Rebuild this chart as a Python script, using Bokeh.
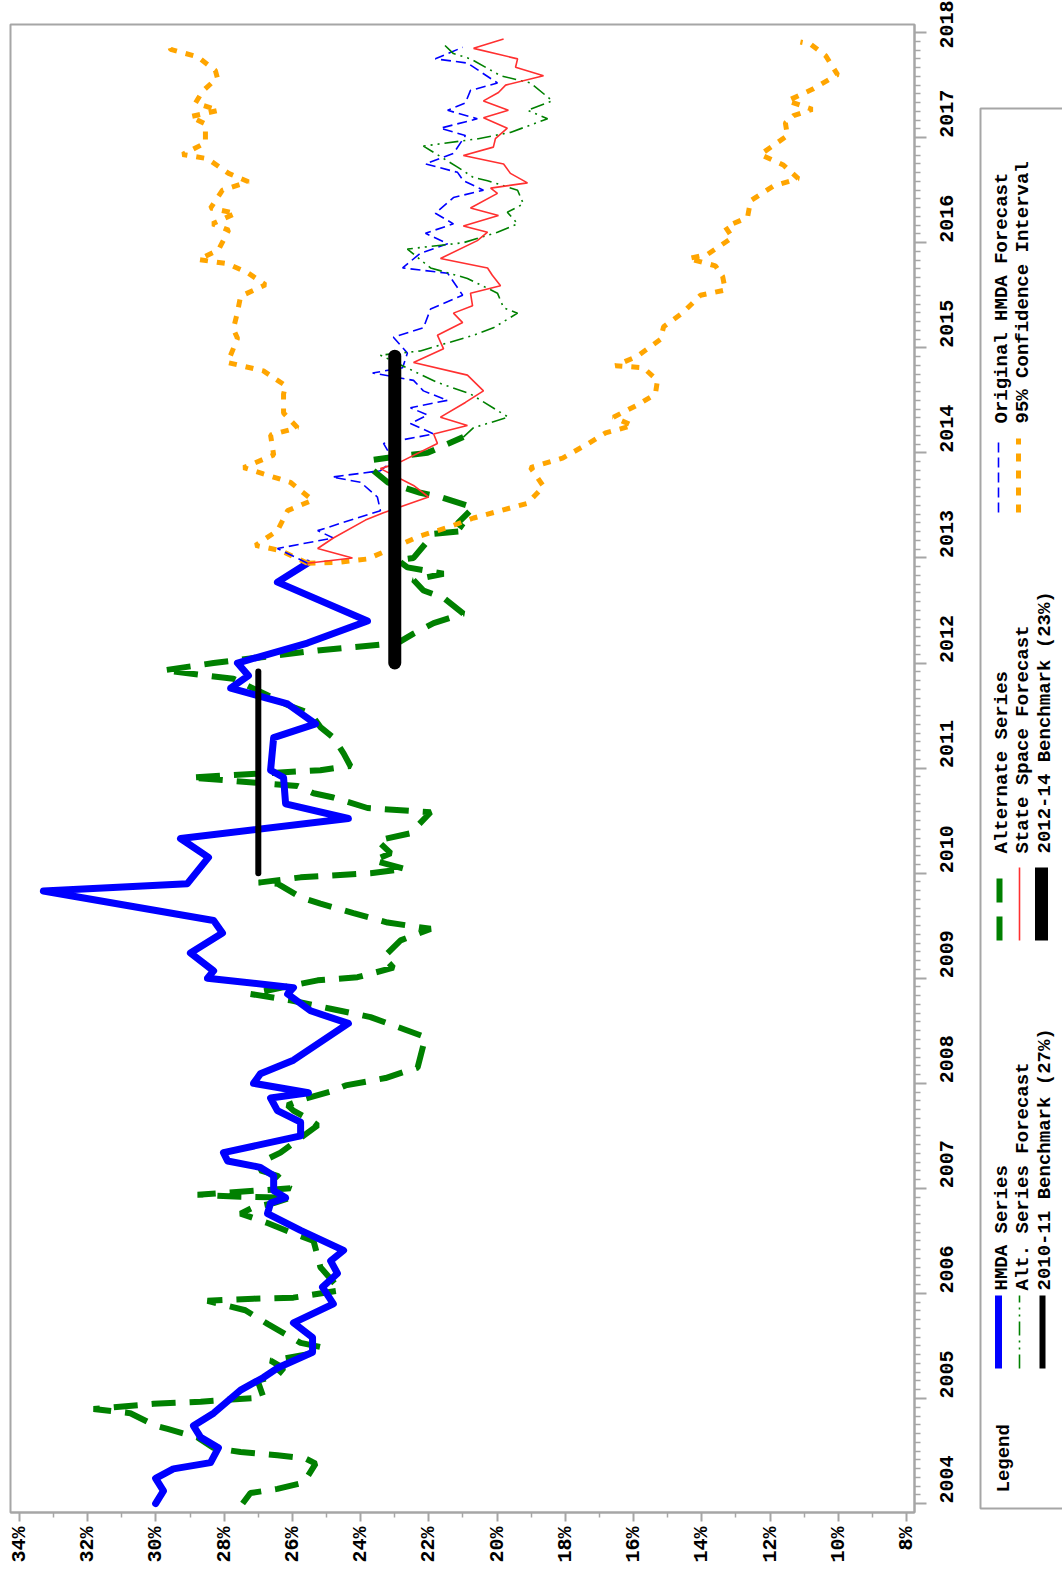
import math

from bokeh.core.properties import value
from bokeh.embed import file_html
from bokeh.layouts import row
from bokeh.models import FixedTicker, Range1d
from bokeh.plotting import figure
from bokeh.resources import INLINE

# ---------------------------------------------------------------- data
# HMDA series (share, %), by decimal year
hmda_year = [2004.00, 2004.12, 2004.24, 2004.33, 2004.39, 2004.53, 2004.63, 2004.74, 2004.86, 2005.08,
             2005.20, 2005.29, 2005.44, 2005.58, 2005.72, 2005.90, 2006.06, 2006.19, 2006.31, 2006.41,
             2006.60, 2006.76, 2006.86, 2006.91, 2006.98, 2007.12, 2007.20, 2007.26, 2007.34, 2007.50,
             2007.63, 2007.74, 2007.86, 2007.91, 2008.00, 2008.09, 2008.22, 2008.57, 2008.69, 2008.85,
             2008.91, 2009.00, 2009.07, 2009.24, 2009.43, 2009.55, 2009.83, 2009.90, 2010.15, 2010.33,
             2010.52, 2010.66, 2010.91, 2010.98, 2011.29, 2011.42, 2011.61, 2011.76, 2011.88, 2012.00,
             2012.19, 2012.40, 2012.77, 2012.95]
hmda_rate = [30.01, 29.78, 30.01, 29.49, 28.40, 28.17, 28.69, 28.90, 28.31, 27.52,
             26.85, 26.44, 25.41, 25.41, 25.97, 24.80, 25.12, 24.68, 24.88, 24.50,
             25.76, 26.73, 26.64, 26.20, 26.55, 26.55, 26.94, 27.90, 28.02, 25.76,
             25.76, 26.44, 26.64, 25.53, 27.14, 26.94, 25.97, 24.36, 25.47, 26.14,
             25.97, 28.49, 28.31, 28.99, 28.05, 28.31, 33.30, 29.08, 28.46, 29.28,
             24.36, 26.20, 26.26, 26.64, 26.55, 25.32, 26.14, 27.81, 27.29, 27.61,
             25.56, 23.80, 26.44, 25.56]

# Alternate series
alt_year = [2004.00, 2004.10, 2004.14, 2004.20, 2004.38, 2004.43, 2004.46, 2004.49, 2004.53, 2004.63,
            2004.71, 2004.74, 2004.86, 2004.90, 2004.95, 2004.97, 2005.01, 2005.17, 2005.22, 2005.29,
            2005.36, 2005.43, 2005.49, 2005.53, 2005.71, 2005.84, 2005.93, 2005.95, 2005.96, 2006.03,
            2006.25, 2006.50, 2006.57, 2006.67, 2006.76, 2006.82, 2006.86, 2006.91, 2006.92, 2006.94,
            2007.00, 2007.12, 2007.17, 2007.26, 2007.34, 2007.43, 2007.55, 2007.60, 2007.65, 2007.74,
            2007.79, 2007.84, 2007.93, 2007.98, 2008.05, 2008.15, 2008.44, 2008.63, 2008.71, 2008.79,
            2008.85, 2008.98, 2009.01, 2009.10, 2009.20, 2009.36, 2009.47, 2009.53, 2009.62, 2009.71,
            2009.77, 2009.90, 2009.91, 2009.96, 2010.00, 2010.04, 2010.12, 2010.19, 2010.31, 2010.38,
            2010.58, 2010.62, 2010.72, 2010.76, 2010.83, 2010.91, 2010.98, 2011.02, 2011.14, 2011.29,
            2011.39, 2011.52, 2011.60, 2011.85, 2011.93, 2012.00, 2012.12, 2012.19, 2012.28, 2012.38,
            2012.47, 2012.62, 2012.69, 2012.79, 2012.85, 2012.91, 2012.98, 2013.00, 2013.23, 2013.26,
            2013.33, 2013.48, 2013.58, 2013.62, 2013.72, 2013.83, 2013.93, 2013.96, 2014.00, 2014.15]
alt_rate = [27.46, 27.23, 26.44, 25.67, 25.32, 25.62, 26.44, 27.52, 28.31, 28.78,
            29.66, 30.01, 30.75, 31.83, 30.07, 28.69, 26.85, 27.02, 26.44, 26.26,
            26.64, 25.38, 25.18, 25.76, 26.73, 27.38, 28.49, 27.14, 25.97, 24.59,
            25.18, 25.38, 25.97, 26.73, 27.52, 27.14, 26.55, 26.06, 27.52, 28.78,
            26.06, 26.44, 26.94, 26.85, 26.35, 25.97, 25.47, 25.26, 25.47, 25.97,
            26.14, 25.76, 24.80, 24.44, 23.27, 22.33, 22.10, 23.71, 24.88, 26.06,
            27.23, 25.26, 24.09, 23.04, 23.33, 22.83, 21.95, 23.21, 24.21, 25.18,
            25.76, 26.44, 26.99, 25.76, 23.71, 22.69, 23.62, 23.12, 23.51, 22.54,
            21.95, 23.80, 24.80, 25.38, 25.85, 28.99, 25.18, 24.30, 24.50, 24.80,
            25.18, 25.47, 26.14, 27.73, 29.78, 28.31, 25.26, 22.92, 22.45, 21.86,
            20.99, 21.57, 22.16, 22.45, 21.57, 22.63, 22.92, 22.45, 21.86, 20.87,
            21.16, 20.69, 21.66, 22.25, 23.21, 23.62, 23.71, 23.04, 22.04, 20.99]

# Alt. series forecast
altf_year = [2014.15, 2014.24, 2014.34, 2014.56, 2014.67, 2014.76, 2014.93, 2014.97, 2015.12, 2015.19,
             2015.33, 2015.38, 2015.52, 2015.66, 2015.76, 2015.94, 2016.00, 2016.10, 2016.18, 2016.29,
             2016.37, 2016.50, 2016.59, 2016.62, 2016.72, 2016.92, 2016.99, 2017.05, 2017.18, 2017.26,
             2017.35, 2017.52, 2017.59, 2017.75, 2017.80, 2017.90]
altf_rate = [20.99, 20.69, 19.67, 20.78, 21.75, 22.33, 23.42, 22.25, 20.69, 20.11,
             19.40, 19.81, 19.99, 20.87, 21.95, 22.63, 20.99, 19.99, 19.40, 19.70,
             19.23, 19.40, 20.28, 20.69, 21.16, 22.16, 20.55, 19.61, 18.52, 19.11,
             18.38, 19.02, 19.90, 20.78, 21.28, 21.60]

# State space forecast
ss_year = [2012.95, 2013.00, 2013.09, 2013.19, 2013.36, 2013.43, 2013.58, 2013.69, 2013.85, 2013.90,
           2014.09, 2014.18, 2014.26, 2014.34, 2014.48, 2014.59, 2014.74, 2014.86, 2014.99, 2015.12,
           2015.24, 2015.33, 2015.40, 2015.52, 2015.59, 2015.69, 2015.76, 2015.85, 2016.02, 2016.10,
           2016.16, 2016.26, 2016.33, 2016.47, 2016.52, 2016.57, 2016.66, 2016.75, 2016.83, 2016.91,
           2016.99, 2017.09, 2017.19, 2017.26, 2017.35, 2017.43, 2017.50, 2017.59, 2017.67, 2017.75,
           2017.85, 2017.94]
ss_rate = [25.56, 24.24, 25.26, 24.80, 23.86, 23.33, 22.01, 22.45, 23.42, 22.92,
           21.75, 21.86, 20.87, 21.66, 20.93, 20.40, 20.87, 22.45, 21.57, 21.75,
           21.01, 21.28, 20.72, 20.78, 19.90, 20.14, 20.28, 21.66, 20.58, 20.28,
           20.99, 19.96, 20.78, 19.99, 20.19, 19.11, 19.61, 19.81, 20.99, 20.11,
           20.05, 19.70, 20.40, 19.67, 20.40, 19.96, 19.75, 18.64, 19.46, 19.40,
           20.69, 19.81]

# Original HMDA forecast
orig_year = [2012.95, 2013.09, 2013.19, 2013.26, 2013.45, 2013.58, 2013.72, 2013.77, 2013.83, 2013.93,
             2014.09, 2014.18, 2014.28, 2014.36, 2014.43, 2014.50, 2014.59, 2014.69, 2014.76, 2014.81,
             2014.95, 2015.10, 2015.19, 2015.37, 2015.50, 2015.71, 2015.76, 2015.90, 2015.99, 2016.09,
             2016.18, 2016.28, 2016.43, 2016.50, 2016.59, 2016.67, 2016.75, 2016.85, 2017.02, 2017.09,
             2017.18, 2017.26, 2017.33, 2017.45, 2017.52, 2017.71, 2017.75, 2017.86]
orig_rate = [25.56, 26.44, 24.80, 25.26, 23.42, 23.51, 24.00, 24.83, 23.42, 23.04,
             23.33, 21.86, 22.54, 22.04, 22.54, 21.45, 22.16, 22.45, 23.65, 22.77,
             22.63, 23.04, 22.16, 21.95, 21.01, 21.45, 22.77, 22.25, 21.45, 22.10,
             21.28, 21.81, 21.28, 20.40, 20.99, 21.16, 22.10, 21.28, 20.93, 21.66,
             20.58, 21.45, 20.93, 20.78, 19.99, 20.87, 21.81, 21.01]

# 95% confidence interval, upper and lower bounds
ci_hi_year = [2012.95, 2013.07, 2013.12, 2013.26, 2013.45, 2013.55, 2013.72, 2013.80, 2013.86, 2013.98,
              2014.17, 2014.24, 2014.38, 2014.56, 2014.64, 2014.78, 2014.86, 2015.09, 2015.18, 2015.34,
              2015.49, 2015.60, 2015.71, 2015.80, 2015.84, 2015.93, 2016.12, 2016.18, 2016.28, 2016.33,
              2016.50, 2016.58, 2016.66, 2016.80, 2016.84, 2016.95, 2017.13, 2017.20, 2017.26, 2017.33,
              2017.44, 2017.57, 2017.64, 2017.77, 2017.84, 2017.90]
ci_hi_rate = [25.56, 26.35, 27.08, 26.44, 26.14, 25.41, 26.06, 26.85, 27.43, 26.55,
              26.64, 25.85, 26.26, 26.26, 26.20, 26.85, 27.90, 27.61, 27.73, 27.61,
              27.52, 26.79, 27.29, 27.90, 28.75, 28.17, 27.87, 28.34, 27.67, 28.40,
              28.05, 27.29, 27.87, 28.49, 29.22, 28.55, 28.55, 28.99, 28.17, 28.84,
              28.64, 28.20, 28.26, 28.78, 29.57, 29.63]
ci_lo_year = [2012.95, 2012.96, 2012.99, 2013.21, 2013.29, 2013.38, 2013.45, 2013.52, 2013.68, 2013.86,
              2013.95, 2014.09, 2014.19, 2014.26, 2014.34, 2014.46, 2014.56, 2014.69, 2014.81, 2014.83,
              2014.92, 2015.08, 2015.20, 2015.33, 2015.50, 2015.55, 2015.68, 2015.78, 2015.85, 2015.89,
              2016.05, 2016.15, 2016.24, 2016.40, 2016.54, 2016.61, 2016.74, 2016.84, 2017.02, 2017.14,
              2017.21, 2017.27, 2017.35, 2017.46, 2017.60, 2017.78, 2017.89, 2017.91]
ci_lo_rate = [25.56, 24.59, 23.80, 22.25, 21.45, 20.69, 19.90, 19.11, 18.64, 19.02,
              18.08, 17.32, 16.82, 16.03, 16.59, 15.86, 15.36, 15.30, 15.71, 16.53,
              15.89, 15.21, 15.12, 14.57, 14.04, 13.31, 13.39, 13.60, 14.39, 13.83,
              13.10, 13.31, 12.66, 12.57, 11.90, 11.17, 11.61, 12.28, 11.49, 11.55,
              11.31, 10.76, 11.49, 10.76, 10.02, 10.37, 10.81, 11.11]

# Benchmarks: period span and level
bench1_years = [2010.0, 2011.92]
bench1_level = 27
bench2_years = [2012.0, 2014.92]
bench2_level = 23

# Axis ticks
year_ticks = list(range(2004, 2019))
pct_ticks = list(range(8, 35, 2))

legend_labels = [
    "HMDA Series", "Alt. Series Forecast", "2010-11 Benchmark (27%)",
    "Alternate Series", "State Space Forecast", "2012-14 Benchmark (23%)",
    "Original HMDA Forecast", "95% Confidence Interval",
]

# ---------------------------------------------------------------- styles
BLUE = "#0000ff"
GREEN = "#008000"
RED = "#ff3030"
ORANGE = "#ffa500"
FRAME = "#a6a6a6"
FONT = "Liberation Mono"

STY = {
    "hmda": dict(line_color=BLUE, line_width=7, line_join="round", line_cap="round"),
    "alt": dict(line_color=GREEN, line_width=6, line_dash="24 14"),
    "altf": dict(line_color=GREEN, line_width=1.6, line_dash="14 5 2 5 2 5"),
    "ss": dict(line_color=RED, line_width=1.6),
    "orig": dict(line_color=BLUE, line_width=1.6, line_dash="10 5"),
    "ci": dict(line_color=ORANGE, line_width=5, line_dash="8 9"),
    "b1": dict(line_color="black", line_width=6, line_cap="round"),
    "b2": dict(line_color="black", line_width=13, line_cap="round"),
}

# ---------------------------------------------------------------- main plot
# Time runs up the page and the percentage axis runs right-to-left.
H = 1572
TOP, BOTTOM = 24, 60
p = figure(width=975, height=H, output_backend="svg", toolbar_location=None,
           x_range=Range1d(34.264, 7.765), y_range=Range1d(2003.915, 2018.077),
           y_axis_location="right", x_axis_location="below",
           min_border_left=10, min_border_top=TOP, min_border_bottom=BOTTOM, min_border_right=61)
p.xgrid.visible = False
p.ygrid.visible = False
p.outline_line_color = FRAME
p.outline_line_width = 2
p.background_fill_color = "white"
p.border_fill_color = "white"

months = [y + m / 12 for y in year_ticks[:-1] for m in range(1, 12)]
p.yaxis.ticker = FixedTicker(ticks=year_ticks, minor_ticks=months)
p.yaxis.major_label_overrides = {t: str(t) for t in year_ticks}
p.yaxis.major_tick_out = 12
p.yaxis.minor_tick_out = 6
p.yaxis.major_label_standoff = 20

odd = [t + 1 for t in pct_ticks[:-1]]
p.xaxis.ticker = FixedTicker(ticks=pct_ticks, minor_ticks=odd)
p.xaxis.major_label_overrides = {t: f"{t}%" for t in pct_ticks}
p.xaxis.major_tick_out = 9
p.xaxis.minor_tick_out = 5
p.xaxis.major_label_standoff = 5

for ax in (p.xaxis[0], p.yaxis[0]):
    ax.major_label_orientation = math.pi / 2
    ax.major_tick_in = 0
    ax.minor_tick_in = 0
    ax.axis_line_color = FRAME
    ax.axis_line_width = 2
    ax.major_tick_line_color = FRAME
    ax.minor_tick_line_color = FRAME
    ax.major_tick_line_width = 2
    ax.minor_tick_line_width = 1.5
    ax.major_label_text_font = FONT
    ax.major_label_text_font_style = "bold"
    ax.major_label_text_font_size = "20px"
    ax.major_label_text_color = "black"

p.line(alt_rate, alt_year, **STY["alt"])
p.line(hmda_rate, hmda_year, **STY["hmda"])
p.line(ci_hi_rate, ci_hi_year, **STY["ci"])
p.line(ci_lo_rate, ci_lo_year, **STY["ci"])
p.line(orig_rate, orig_year, **STY["orig"])
p.line(altf_rate, altf_year, **STY["altf"])
p.line(ss_rate, ss_year, **STY["ss"])
p.line([bench1_level] * 2, bench1_years, **STY["b1"])
p.line([bench2_level] * 2, bench2_years, **STY["b2"])

# ---------------------------------------------------------------- legend panel
# Its frame lines up with the main frame, so the y range spans that same band.
leg = figure(width=87, height=H, output_backend="svg", toolbar_location=None,
             x_range=Range1d(975, 1062), y_range=Range1d(BOTTOM, H - TOP),
             x_axis_location=None, y_axis_location=None,
             min_border_left=0, min_border_right=0,
             min_border_top=TOP, min_border_bottom=BOTTOM)
leg.outline_line_color = None
leg.xgrid.visible = False
leg.ygrid.visible = False
leg.background_fill_color = "white"
leg.border_fill_color = "white"


def Y(top):
    """Convert a distance from the page top into panel coordinates."""
    return H - top


leg.quad(left=980, right=1080, top=Y(108), bottom=Y(1508),
         fill_color=None, line_color=FRAME, line_width=2)

# sample strokes, drawn bottom-up
keys = ["hmda", "altf", "b1", "alt", "ss", "b2", "orig", "ci"]
sym_x = [998, 1019, 1042, 999, 1019, 1041, 998, 1018]
sym_y = [(1368, 1295)] * 3 + [(940, 867)] * 3 + [(512, 438)] * 2
for k, sx, (y0, y1) in zip(keys, sym_x, sym_y):
    st = dict(STY[k])
    if k in ("b1", "b2", "hmda"):
        st["line_cap"] = "butt"
    leg.line([sx, sx], [Y(y0), Y(y1)], **st)

txt_x = [1001, 1022, 1044, 1001, 1022, 1044, 1001, 1022]
txt_y = [Y(1290)] * 3 + [Y(853)] * 3 + [Y(423)] * 2
leg.text(x=txt_x + [1003], y=txt_y + [Y(1492)], text=legend_labels + ["Legend"],
         angle=math.pi / 2, text_align="left", text_baseline="middle",
         text_font=value(FONT), text_font_style="bold", text_font_size="19px",
         text_color="black")

layout = row(p, leg)
open("out.html", "w").write(file_html(layout, INLINE))
